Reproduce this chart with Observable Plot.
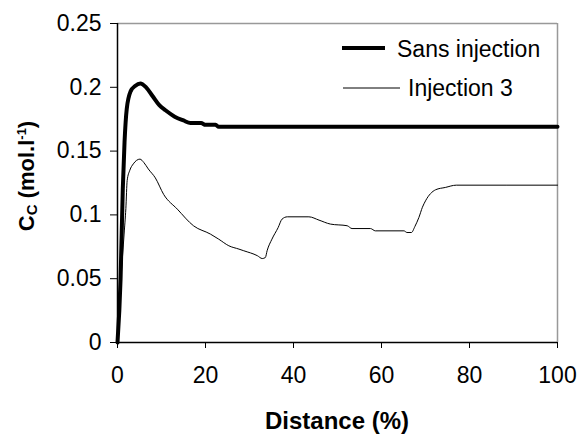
<!DOCTYPE html>
<html><head><meta charset="utf-8">
<script src="https://cdn.jsdelivr.net/npm/d3@7"></script>
<script src="https://cdn.jsdelivr.net/npm/@observablehq/plot@0.6"></script>
<style>
body{margin:0;background:#fff;}
#chart{position:relative;width:577px;height:436px;}
</style></head><body><div id="chart"></div>
<script>
// Sans injection (thick line)
const sansX = [0, 0.7, 1.2, 1.6, 2.1, 3, 4, 5.2, 6.5, 8, 9.5, 10.9, 13, 15, 16.6, 19, 20, 22.3, 23, 100];
const sansY = [0, 0.05, 0.12, 0.157, 0.183, 0.197, 0.201, 0.203, 0.2, 0.193, 0.186, 0.182, 0.177, 0.174, 0.172, 0.172, 0.1706, 0.1706, 0.169, 0.169];
// Injection 3 (thin line)
const injX = [0, 0.8, 1.5, 1.9, 2.2, 2.8, 3.6, 5.1, 6, 7, 8.6, 10.5, 13.6, 17.3, 21.1, 23, 25.3, 27.6, 28.7, 31.8, 32.9, 33.6, 34, 35.1, 36.5, 37.4, 38.6, 43.5, 45.8, 48.4, 52.2, 53.3, 57.5, 58.6, 65.1, 65.8, 66.8, 67.6, 68.5, 69.3, 70, 72.3, 74.5, 77, 100];
const injY = [0, 0.05, 0.085, 0.105, 0.127, 0.135, 0.14, 0.1437, 0.141, 0.136, 0.129, 0.116, 0.1045, 0.0914, 0.085, 0.081, 0.0758, 0.0732, 0.0719, 0.068, 0.0658, 0.0666, 0.0719, 0.081, 0.09, 0.0967, 0.0985, 0.0985, 0.0959, 0.0928, 0.0915, 0.0893, 0.0893, 0.0875, 0.0875, 0.0862, 0.0862, 0.091, 0.098, 0.106, 0.111, 0.1197, 0.1215, 0.1233, 0.1233];
const xTicks = [0, 20, 40, 60, 80, 100];
const yTicks = [0, 0.05, 0.1, 0.15, 0.2, 0.25];
const seriesNames = ["Sans injection", "Injection 3"];
const seriesWidths = [4, 1];
const xLabel = "Distance (%)";

const sans = sansX.map((x, i) => ({x, y: sansY[i]}));
const inj = injX.map((x, i) => ({x, y: injY[i]}));

const font = "'Liberation Sans', Arial, Helvetica, sans-serif";
const plot = Plot.plot({
  width: 577, height: 436,
  marginLeft: 117, marginRight: 20, marginTop: 23, marginBottom: 94,
  style: {fontFamily: font, fontSize: "23px", color: "#000", background: "#fff"},
  x: {domain: [0, 100]},
  y: {domain: [0, 0.25]},
  marks: [
    Plot.ruleY([0.25], {stroke: "#999", strokeWidth: 1.5}),
    Plot.ruleX([100], {stroke: "#999", strokeWidth: 1.5}),
    Plot.axisX({ticks: xTicks, tickSize: 6, tickPadding: 18, label: null, fontSize: 23}),
    Plot.axisY({ticks: yTicks, tickSize: 7, tickPadding: 9, label: null, fontSize: 23, tickFormat: d => String(d)}),
    Plot.ruleX([0], {stroke: "#000", strokeWidth: 1.5}),
    Plot.ruleY([0], {stroke: "#000", strokeWidth: 1.5}),
    Plot.line(inj, {x: "x", y: "y", stroke: "#000", strokeWidth: seriesWidths[1], curve: "monotone-x"}),
    Plot.line(sans, {x: "x", y: "y", stroke: "#000", strokeWidth: seriesWidths[0], curve: "monotone-x"})
  ]
});
document.getElementById("chart").appendChild(plot);

const svg = d3.select(plot);
// Legend
const leg = svg.append("g").attr("font-family", font).attr("font-size", 23).attr("text-anchor", "start");
const legRows = [
  {y: 48, x1: 342, x2: 385, tx: 397, ty: 57},
  {y: 88, x1: 343, x2: 400, tx: 408, ty: 96}
];
seriesNames.forEach((name, i) => {
  const r = legRows[i];
  leg.append("line").attr("x1", r.x1).attr("x2", r.x2).attr("y1", r.y).attr("y2", r.y)
    .attr("stroke", "#000").attr("stroke-width", seriesWidths[i]);
  leg.append("text").attr("x", r.tx).attr("y", r.ty).attr("text-anchor", "start").text(name);
});
// x title
svg.append("text").attr("x", 337).attr("y", 429).attr("text-anchor", "middle")
  .attr("font-family", font).attr("font-size", 24).attr("font-weight", "bold").text(xLabel);
// y title
const yt = svg.append("text").attr("transform", "translate(34,176) rotate(-90)")
  .attr("text-anchor", "middle").attr("font-family", font).attr("font-size", 22).attr("font-weight", "bold");
yt.append("tspan").text("C");
yt.append("tspan").attr("font-size", 15).attr("dy", 3).text("C");
yt.append("tspan").attr("dy", -3).text(" (mol.l");
yt.append("tspan").attr("font-size", 13).attr("dy", -8).text("-1");
yt.append("tspan").attr("dy", 8).text(")");
</script>
</body></html>
